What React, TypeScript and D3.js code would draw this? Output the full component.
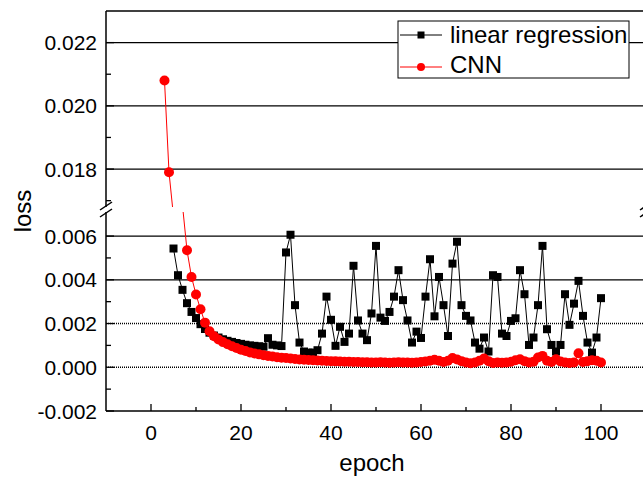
import React from "react";
import * as d3 from "d3";

const W = 643;
const H = 477;

// linear regression loss, epochs 5..100
const lrEpochs = d3.range(5, 101);
const lrLoss = [
  0.00543, 0.00421, 0.00354, 0.00293, 0.00253,
  0.00225, 0.00197, 0.00175, 0.00158, 0.00145, 0.00136, 0.00128, 0.00121, 0.00116, 0.00111,
  0.00107, 0.00103, 0.001, 0.00098, 0.00096, 0.00094, 0.00133, 0.00103, 0.001, 0.00097,
  0.00525, 0.00606, 0.00284, 0.00113, 0.00072, 0.00067, 0.00067, 0.00078, 0.00154, 0.00323,
  0.00217, 0.00098, 0.00185, 0.00116, 0.00154, 0.00464, 0.00214, 0.00154, 0.00124, 0.00246,
  0.00555, 0.00227, 0.00212, 0.00253, 0.00323, 0.00444, 0.00307, 0.00214, 0.00113, 0.00163,
  0.00134, 0.00323, 0.00494, 0.00233, 0.00413, 0.00284, 0.00143, 0.00474, 0.00574, 0.00284,
  0.00235, 0.00214, 0.00113, 0.00085, 0.00136, 0.00072, 0.00421, 0.00413, 0.00154, 0.00143,
  0.00212, 0.00224, 0.00444, 0.00334, 0.00102, 0.00136, 0.00284, 0.00555, 0.00174, 0.00102,
  0.00072, 0.00102, 0.00334, 0.00194, 0.00291, 0.00395, 0.00235, 0.00113, 0.00067, 0.00136,
  0.00316,
];

// CNN loss, epochs 3..100
const cnnEpochs = d3.range(3, 101);
const cnnLoss = [
  0.0208, 0.0179, 0.0165, 0.011, 0.0074, 0.00535, 0.00413, 0.00333,
  0.00265, 0.00204, 0.00165, 0.00142, 0.00127, 0.00115, 0.00105, 0.00096, 0.00088, 0.0008,
  0.00074, 0.00068, 0.00063, 0.00059, 0.00055, 0.00052, 0.00049, 0.00046, 0.00044, 0.00042,
  0.0004, 0.00038, 0.00036, 0.00034, 0.00033, 0.00032, 0.00031, 0.0003, 0.00029, 0.00028,
  0.00027, 0.00026, 0.00025, 0.00025, 0.00024, 0.00024, 0.00023, 0.00023, 0.00022, 0.00022,
  0.00023, 0.00022, 0.00021, 0.00022, 0.00023, 0.00022, 0.00022, 0.00021, 0.00022, 0.00024,
  0.00026, 0.0003, 0.00034, 0.0003, 0.00024, 0.0003, 0.00042, 0.00036, 0.00028, 0.00022,
  0.00018, 0.00022, 0.0003, 0.0004, 0.00028, 0.0002, 0.00022, 0.00021, 0.00022, 0.00025,
  0.00032, 0.00037, 0.00028, 0.00022, 0.00025, 0.00045, 0.00052, 0.0003, 0.00024, 0.00037,
  0.00026, 0.00022, 0.0002, 0.00022, 0.00064, 0.00024, 0.00028, 0.00032, 0.0003, 0.00022,
];

const upperTicks = [0.018, 0.02, 0.022];
const upperMinor = [0.017, 0.019, 0.021];
const lowerTicks = [-0.002, 0, 0.002, 0.004, 0.006];
const lowerMinor = [-0.001, 0.001, 0.003, 0.005];
const xTicks = [0, 20, 40, 60, 80, 100];
const xMinor = [10, 30, 50, 70, 90];
const dottedGrid = [0, 0.002];

const FONT = "'Liberation Sans', Arial, sans-serif";

const left = 106;
const right = 646;
const top = 11;
const bottom = 411;
const upperBottom = 207;
const lowerTop = 212;

// hyphen minus like the original, not the unicode minus d3 gives
const fmt = (v: number) => v.toFixed(3);

export default function App() {
  const x = d3.scaleLinear().domain([-10, 110]).range([left, right]);
  const yUp = d3.scaleLinear().domain([0.0168, 0.023]).range([upperBottom, top]);
  const yLo = d3.scaleLinear().domain([-0.002, 0.0071]).range([bottom, lowerTop]);

  const lr = lrEpochs.map((e, i) => [e, lrLoss[i]] as [number, number]);
  const cnn = cnnEpochs.map((e, i) => [e, cnnLoss[i]] as [number, number]);

  const segments = [
    { id: "up", y: yUp, y0: top, y1: upperBottom },
    { id: "lo", y: yLo, y0: lowerTop, y1: bottom },
  ];

  return (
    <svg
      width={W}
      height={H}
      style={{ position: "absolute", left: 0, top: 0, background: "#fff" }}
      fontFamily={FONT}
    >
      <defs>
        {segments.map((s) => (
          <clipPath id={`clip-${s.id}`} key={s.id}>
            <rect x={left} y={s.y0} width={right - left} height={s.y1 - s.y0} />
          </clipPath>
        ))}
      </defs>

      {/* grid lines */}
      {upperTicks.map((t) => (
        <line key={"gu" + t} x1={left} x2={right} y1={yUp(t)} y2={yUp(t)} stroke="#000" strokeWidth={1.3} />
      ))}
      {lowerTicks.slice(1).map((t) => (
        <line
          key={"gl" + t}
          x1={left}
          x2={right}
          y1={yLo(t)}
          y2={yLo(t)}
          stroke="#000"
          strokeWidth={dottedGrid.includes(t) ? 1.6 : 1.3}
          strokeDasharray={dottedGrid.includes(t) ? "1 1" : undefined}
        />
      ))}

      {/* series */}
      {segments.map((s) => {
        const ln = d3
          .line<[number, number]>()
          .x((d) => x(d[0]))
          .y((d) => s.y(d[1]));
        const [dmin, dmax] = s.y.domain();
        const inside = (v: number) => v >= dmin && v <= dmax;
        return (
          <g key={"s" + s.id} clipPath={`url(#clip-${s.id})`}>
            <path d={ln(lr) || ""} fill="none" stroke="#000" strokeWidth={1} />
            {lr.filter((d) => inside(d[1])).map((d) => (
              <rect key={"b" + d[0]} x={x(d[0]) - 4} y={s.y(d[1]) - 4} width={8} height={8} fill="#000" />
            ))}
            <path d={ln(cnn) || ""} fill="none" stroke="#ff0000" strokeWidth={1} />
            {cnn.filter((d) => inside(d[1])).map((d) => (
              <circle key={"r" + d[0]} cx={x(d[0])} cy={s.y(d[1])} r={5} fill="#ff0000" />
            ))}
          </g>
        );
      })}

      {/* frame */}
      <line x1={left} x2={right} y1={top} y2={top} stroke="#000" strokeWidth={1.5} />
      <line x1={left} x2={right} y1={bottom} y2={bottom} stroke="#000" strokeWidth={1.5} />
      <line x1={left} x2={left} y1={top} y2={upperBottom} stroke="#000" strokeWidth={1.5} />
      <line x1={left} x2={left} y1={lowerTop} y2={bottom} stroke="#000" strokeWidth={1.5} />
      {[left, right].map((bx) =>
        [upperBottom - 1, lowerTop + 1].map((by) => (
          <line key={"br" + bx + by} x1={bx - 6} y1={by + 4} x2={bx + 6} y2={by - 4} stroke="#000" strokeWidth={1.5} />
        ))
      )}

      {/* y ticks */}
      {upperTicks.map((t) => (
        <g key={"yu" + t}>
          <line x1={left} x2={left + 8} y1={yUp(t)} y2={yUp(t)} stroke="#000" strokeWidth={1.3} />
          <text x={97} y={yUp(t)} dy="0.36em" textAnchor="end" fontSize={21}>{fmt(t)}</text>
        </g>
      ))}
      {upperMinor.map((t) => (
        <line key={"yum" + t} x1={left} x2={left + 5} y1={yUp(t)} y2={yUp(t)} stroke="#000" strokeWidth={1.3} />
      ))}
      {lowerTicks.map((t) => (
        <g key={"yl" + t}>
          <line x1={left} x2={left + 8} y1={yLo(t)} y2={yLo(t)} stroke="#000" strokeWidth={1.3} />
          <text x={97} y={yLo(t)} dy="0.36em" textAnchor="end" fontSize={21}>{fmt(t)}</text>
        </g>
      ))}
      {lowerMinor.map((t) => (
        <line key={"ylm" + t} x1={left} x2={left + 5} y1={yLo(t)} y2={yLo(t)} stroke="#000" strokeWidth={1.3} />
      ))}

      {/* x ticks */}
      {xTicks.map((t) => (
        <g key={"x" + t}>
          <line x1={x(t)} x2={x(t)} y1={bottom} y2={bottom - 7} stroke="#000" strokeWidth={1.3} />
          <text x={x(t)} y={440} textAnchor="middle" fontSize={21}>{t}</text>
        </g>
      ))}
      {xMinor.map((t) => (
        <line key={"xm" + t} x1={x(t)} x2={x(t)} y1={bottom} y2={bottom - 4} stroke="#000" strokeWidth={1.3} />
      ))}

      {/* axis titles */}
      <text x={372} y={471} textAnchor="middle" fontSize={24}>epoch</text>
      <text transform="translate(31,211) rotate(-90)" textAnchor="middle" fontSize={24}>loss</text>

      {/* legend */}
      <g>
        <rect x={398} y={21} width={231} height={57} fill="#fff" stroke="#000" strokeWidth={1} />
        <line x1={400} x2={442} y1={35} y2={35} stroke="#000" strokeWidth={1} />
        <rect x={421 - 3.5} y={35 - 3.5} width={7} height={7} fill="#000" />
        <text x={450} y={43} fontSize={24}>linear regression</text>
        <line x1={400} x2={442} y1={67} y2={67} stroke="#ff0000" strokeWidth={1} />
        <circle cx={421} cy={67} r={4} fill="#ff0000" />
        <text x={450} y={73} fontSize={24}>CNN</text>
      </g>
    </svg>
  );
}
